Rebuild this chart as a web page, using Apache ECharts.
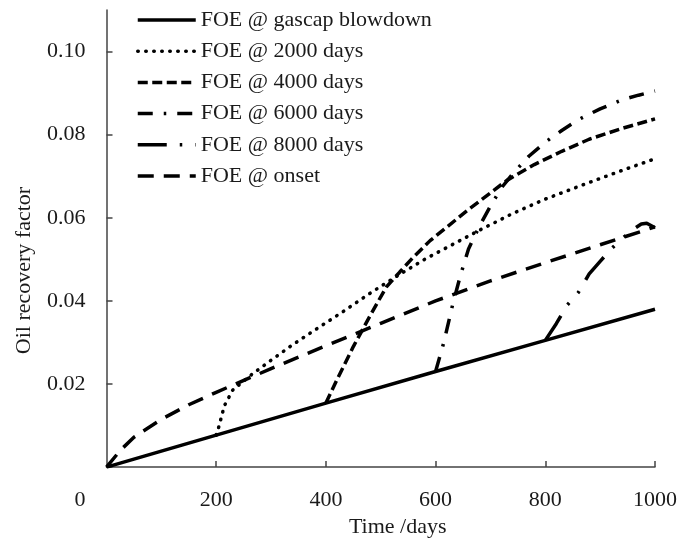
<!DOCTYPE html>
<html>
<head>
<meta charset="utf-8">
<script src="https://cdn.jsdelivr.net/npm/echarts@6/dist/echarts.min.js"></script>
<style>
  html, body { margin: 0; padding: 0; background: #fff; }
  #chart { width: 688px; height: 543px; }
</style>
</head>
<body>
<div id="chart"></div>
<script>
// Oil recovery factor (FOE) versus time for different gas-cap blowdown start times
const seriesNames = [
  'FOE @ gascap blowdown',
  'FOE @ 2000 days',
  'FOE @ 4000 days',
  'FOE @ 6000 days',
  'FOE @ 8000 days',
  'FOE @ onset'
];

const daysBlowdown = [0, 200, 400, 600, 800, 1000];
const foeBlowdown  = [0, 0.0077, 0.0154, 0.0230, 0.0305, 0.0380];

const days2000 = [200, 205, 215, 230, 248, 265, 300, 340, 380, 430, 480, 530, 580, 630, 680, 740, 800, 870, 940, 1000];
const foe2000  = [0.0077, 0.0098, 0.0148, 0.0185, 0.0205, 0.0223, 0.0257, 0.0295, 0.0330, 0.0373, 0.0418, 0.0460, 0.0500, 0.0535, 0.0570, 0.0610, 0.0645, 0.0680, 0.0714, 0.0742];

const days4000 = [400, 420, 450, 480, 510, 535, 560, 590, 620, 660, 700, 730, 780, 830, 880, 940, 1000];
const foe4000  = [0.0154, 0.0210, 0.0290, 0.0363, 0.0433, 0.0470, 0.0506, 0.0545, 0.0577, 0.0620, 0.0660, 0.0690, 0.0728, 0.0760, 0.0789, 0.0815, 0.0838];

const days6000 = [600, 615, 630, 645, 660, 680, 700, 720, 740, 770, 800, 830, 860, 900, 940, 970, 1000];
const foe6000  = [0.0230, 0.0300, 0.0385, 0.0460, 0.0525, 0.0580, 0.0628, 0.0672, 0.0705, 0.0748, 0.0782, 0.0810, 0.0836, 0.0862, 0.0884, 0.0895, 0.0905];

const days8000 = [800, 820, 840, 860, 880, 900, 920, 940, 960, 975, 985, 1000];
const foe8000  = [0.0305, 0.0345, 0.0390, 0.0420, 0.0465, 0.0495, 0.0525, 0.0550, 0.0572, 0.0585, 0.0587, 0.0576];

const daysOnset = [0, 25, 50, 100, 150, 200, 300, 400, 500, 600, 700, 800, 900, 1000];
const foeOnset  = [0, 0.0040, 0.0072, 0.0115, 0.0150, 0.0180, 0.0237, 0.0292, 0.0346, 0.0400, 0.0448, 0.0492, 0.0535, 0.0578];

const xTicks = [200, 400, 600, 800, 1000];
const yTicks = [0, 0.02, 0.04, 0.06, 0.08, 0.10];

const FONT = 'Liberation Serif';
const INK = '#000';
const TEXT = '#1a1a1a';
const LINE_W = 3.5;

function pairs(xs, ys) { return xs.map((x, i) => [x, ys[i]]); }

function lineSeries(name, xs, ys, dash, cap) {
  return {
    name: name,
    type: 'line',
    data: pairs(xs, ys),
    symbol: 'none',
    showSymbol: false,
    smooth: false,
    animation: false,
    color: INK,
    itemStyle: { color: INK, opacity: 0 },
    lineStyle: { color: INK, width: LINE_W, type: dash, cap: cap || 'butt' }
  };
}

const chart = echarts.init(document.getElementById('chart'), null, { renderer: 'canvas' });

chart.setOption({
  backgroundColor: '#fff',
  animation: false,
  color: [INK],
  textStyle: { fontFamily: FONT },
  grid: { left: 106.5, right: 33, top: 10, bottom: 70, containLabel: false },
  legend: {
    orient: 'vertical',
    left: 131,
    top: 4,
    itemWidth: 58,
    itemHeight: 22,
    itemGap: 9.2,
    data: seriesNames,
    lineStyle: { width: LINE_W },
    textStyle: { fontFamily: FONT, fontSize: 22, color: TEXT }
  },
  xAxis: {
    type: 'value',
    min: 0,
    max: 1000,
    interval: 200,
    name: 'Time /days',
    nameLocation: 'middle',
    nameGap: 39,
    nameTextStyle: { fontFamily: FONT, fontSize: 22, color: TEXT, padding: [0, 0, 0, 34] },
    axisLine: { show: true, lineStyle: { color: '#444', width: 1.5 } },
    axisTick: { show: true, inside: true, length: 6, customValues: xTicks, lineStyle: { color: '#444', width: 1.5 } },
    axisLabel: {
      customValues: xTicks,
      margin: 22,
      fontFamily: FONT,
      fontSize: 22,
      color: TEXT,
      formatter: function (v) { return String(v); }
    },
    splitLine: { show: false }
  },
  yAxis: {
    type: 'value',
    min: 0,
    max: 0.11,
    interval: 0.02,
    name: 'Oil recovery factor',
    nameLocation: 'middle',
    nameGap: 71,
    nameTextStyle: { fontFamily: FONT, fontSize: 22, color: TEXT, padding: [0, 64, 0, 0] },
    axisLine: { show: true, lineStyle: { color: '#444', width: 1.5 } },
    axisTick: { show: true, inside: true, length: 6, customValues: yTicks, lineStyle: { color: '#444', width: 1.5 } },
    axisLabel: {
      customValues: yTicks,
      margin: 21,
      fontFamily: FONT,
      fontSize: 22,
      color: TEXT,
      formatter: function (v) {
        if (v === 0) return '{z|0}';
        return v.toFixed(2);
      },
      rich: {
        z: { fontFamily: FONT, fontSize: 22, color: TEXT, padding: [66, 0, 0, 0] }
      }
    },
    splitLine: { show: false }
  },
  series: [
    lineSeries(seriesNames[0], daysBlowdown, foeBlowdown, 'solid'),
    lineSeries(seriesNames[1], days2000, foe2000, [0.5, 7.5], 'round'),
    lineSeries(seriesNames[2], days4000, foe4000, [10, 4.5]),
    lineSeries(seriesNames[3], days6000, foe6000, [15, 11, 2.5, 11]),
    lineSeries(seriesNames[4], days8000, foe8000, [29, 13, 2.5, 13, 2.5, 13]),
    lineSeries(seriesNames[5], daysOnset, foeOnset, [16, 10])
  ]
});
</script>
</body>
</html>
